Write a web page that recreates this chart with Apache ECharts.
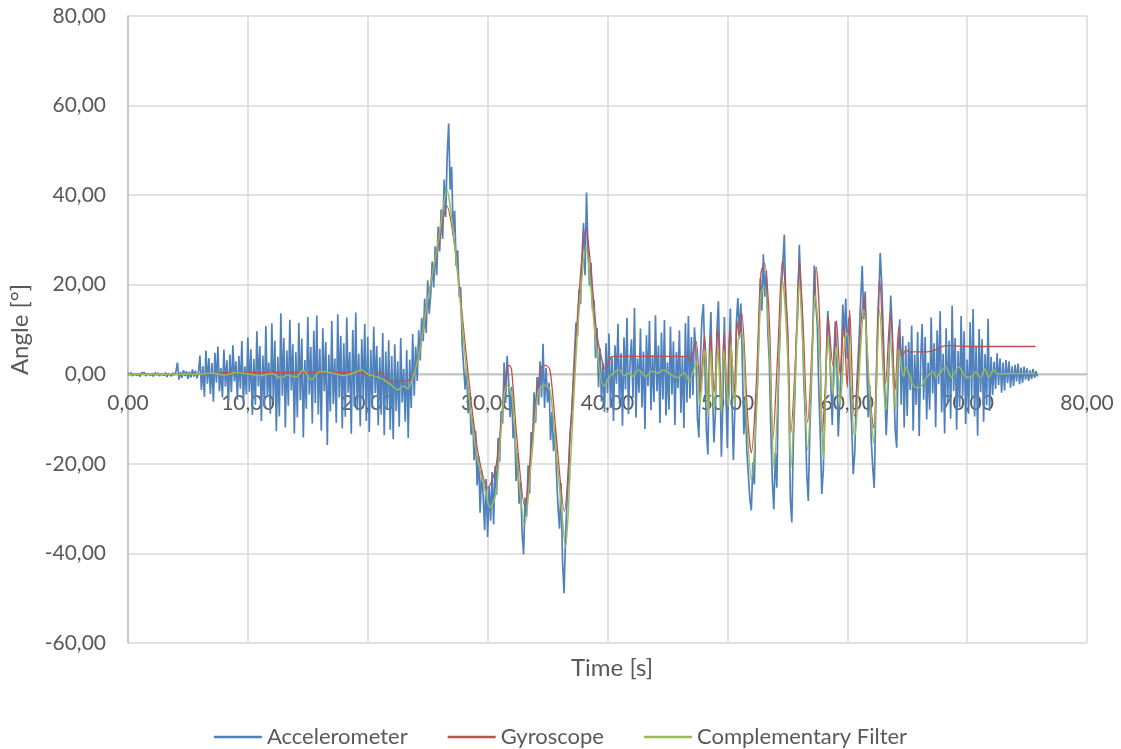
<!DOCTYPE html>
<html>
<head>
<meta charset="utf-8">
<script src="https://cdn.jsdelivr.net/npm/echarts@6/dist/echarts.min.js"></script>
<style>
  html, body { margin: 0; padding: 0; background: #fff; }
  #mainchart { width: 1121px; height: 749px; }
</style>
</head>
<body>
<div id="mainchart"></div>
<script>
// accelerometer: one sample every 0.125 s from 0, one row = 1 s
var accStart = 0;
var accStep = 0.125;
var accAngle = [
  0.3, -0.2, 0.4, -0.4, 0.1, 0.5, -0.3, 0.2,
  -0.5, 0.3, -0.1, 0.4, -0.4, 0.2, 0.5, -0.3,
  0.2, -0.5, 0.4, -0.2, 0.3, -0.4, 0.1, 0.5,
  -0.3, 0.4, -0.6, 0.2, 0.5, -0.4, 0.3, -0.2,
  0.6, 2.6, -1.2, 0.5, -0.8, 0.9, -0.4, 0.7,
  -1.0, 0.6, -0.7, 1.1, -0.5, 0.8, -0.9, 0.4,
  4.2, -3.5, 1.8, -5.0, 5.3, -2.1, 3.6, -4.4,
  2.5, -6.1, 4.8, -1.9, 6.2, -3.8, 1.4, -5.2,
  5.5, -2.8, 3.1, -6.8, 4.4, -4.0, 6.5, -1.6,
  2.9, -5.7, 4.1, -3.2, 7.4, -6.3, 1.8, -4.5,
  8.2, -3.9, 5.6, -9.1, 3.4, -6.8, 9.6, -2.7,
  6.3, -10.4, 4.2, -7.3, 10.8, -5.1, 2.6, -8.8,
  11.4, -6.2, 7.5, -12.7, 3.9, -9.4, 13.6, -4.8,
  8.1, -11.9, 5.3, -7.0, 12.2, -3.6, 6.7, -13.2,
  4.9, -9.6, 11.5, -5.8, 8.0, -14.1, 3.2, -7.7,
  12.8, -4.5, 6.1, -11.0, 9.7, -6.4, 13.1, -9.0,
  5.7, -12.6, 10.3, -3.8, 7.2, -15.8, 4.4, -8.3,
  11.9, -6.7, 3.5, -10.8, 13.4, -5.2, 8.6, -12.1,
  6.9, -9.5, 12.7, -4.1, 5.0, -13.3, 9.9, -7.2,
  13.8, -8.0, 4.6, -11.6, 7.9, -5.5, 11.2, -10.4,
  8.4, -12.9, 5.5, -7.6, 10.6, -4.2, 6.3, -11.4,
  3.8, -9.0, 9.2, -13.6, 5.1, -7.9, 7.6, -12.4,
  4.1, -14.5, 6.7, -8.2, 2.9, -11.7, 8.1, -6.3,
  1.2, -10.6, 5.4, -14.2, 3.3, -7.5, 9.0, -4.8,
  6.2, -1.5, 9.8, 3.1, 12.6, 7.4, 16.9, 9.2,
  21.0, 13.5, 17.8, 25.2, 19.4, 28.6, 22.1, 33.0,
  27.4, 36.8, 30.2, 43.5, 35.1, 48.7, 56.0, 41.2,
  46.3, 31.0, 36.5, 24.2, 27.7, 17.3, 19.5, 6.8,
  7.1, -3.4, 1.5, -8.7, -4.2, -13.5, -9.8, -19.2,
  -12.6, -24.8, -18.3, -30.9, -21.5, -27.0, -34.8, -23.4,
  -36.3, -25.1, -32.7, -21.8, -33.5, -20.4, -26.9, -14.2,
  -19.5, -8.2, -11.0, 2.6, -6.4, 4.1, -1.3, -9.6,
  -2.8, -14.3, -10.5, -23.8, -17.6, -28.9, -24.1, -35.4,
  -40.2, -27.5, -31.8, -20.3, -26.6, -12.9, -15.4, -4.0,
  -10.8, -0.6, -6.9, 2.9, -5.2, 6.8, -7.5, 1.4,
  -6.3, -1.9, -14.7, -8.4, -17.2, -12.0, -22.6, -29.8,
  -34.5, -24.3, -41.9, -48.9, -36.2, -28.0, -22.4, -13.1,
  -9.5, -2.2, 4.8, 11.6, 8.5, 18.9, 15.7, 26.4,
  33.8, 22.1, 40.6, 27.5, 19.8, 24.9, 14.2, 16.5,
  3.6, 10.4, -2.9, 5.8, -6.1, 2.5, -8.4, 6.9,
  -4.2, 9.1, -7.6, 3.8, -10.4, 6.5, -2.1, 11.3,
  -6.8, 4.7, -11.5, 8.2, -3.4, 12.6, -8.9, 2.4,
  7.8, -5.3, 14.8, -9.7, 3.6, -4.1, 10.2, -7.4,
  5.1, -12.2, 8.7, -2.6, 11.9, -8.0, 4.3, -6.2,
  13.2, -3.8, 6.4, -10.9, 9.3, -5.6, 12.1, -9.2,
  2.7, -7.9, 10.6, -4.5, 7.3, -11.3, 5.0, -3.1,
  9.8, -8.6, 3.9, -12.0, 11.4, -6.3, 13.0, -5.4,
  8.3, -4.6, 10.5, 5.2, -9.8, -14.1, 3.6, 12.4,
  15.7, 2.3, -12.6, -17.9, 4.8, 13.9, -2.5, -15.2,
  -8.7, 9.6, 16.3, 1.4, -18.4, -6.2, 12.8, -3.9,
  -16.5, 3.1, 14.7, -5.0, -19.2, -7.6, 11.5, 17.0,
  8.9, 15.8, 2.7, -13.4, -6.1, -17.3, -22.5, -27.8,
  -30.4, -19.7, -24.6, -8.3, -3.1, 9.7, 21.5, 14.2,
  26.8, 17.3, 23.1, 9.4, 2.8, -12.6, -23.9, -30.2,
  -17.5, -25.3, -3.2, 8.9, 18.7, 24.6, 31.2, 16.1,
  10.5, -2.3, -27.7, -33.1, -15.4, -5.2, 7.9, 13.6,
  28.9, 19.2, 12.7, -1.8, -9.5, -22.4, -28.3, -12.8,
  -2.6, 9.1, 24.3, 15.8, 11.2, -3.4, -13.5, -26.7,
  -21.6, -8.9, 3.7, 14.1, 8.2, -1.5, -11.3, 2.4,
  11.8, 3.1, -13.9, -5.7, 2.2, 15.6, 8.4, 16.9,
  3.5, 12.6, -4.8, -11.9, -22.3, -17.6, -5.4, 1.8,
  8.7, 16.9, 24.2, 12.3, 18.5, 2.9, -9.6, -2.4,
  -14.7, -20.8, -25.4, -8.2, 5.6, 16.3, 27.1, 20.4,
  9.8, -3.2, -13.6, -5.1, 3.9, 17.6, 10.2, -1.7,
  -12.5, -16.4, 4.1, 12.3, -6.8, 8.5, -11.9, 6.4,
  -9.3, 7.2, -3.5, 10.9, -12.6, 4.4, -6.8, 9.5,
  -13.8, 3.1, 11.2, -5.7, 8.3, -10.1, 2.6, -7.9,
  12.7, -4.3, 6.9, -11.8, 9.8, -2.2, 14.1, -8.5,
  4.6, -13.2, 10.3, -6.4, 7.5, -9.9, 15.3, -3.7,
  8.1, -12.4, 5.2, -7.3, 13.0, -4.9, 9.6, -11.1,
  3.3, -8.8, 11.6, -5.1, 14.6, -9.4, 6.2, -13.7,
  10.1, -4.0, 7.8, -10.6, 4.5, -6.9, 12.4, -8.2,
  3.9, -4.6, 2.8, -3.3, 4.7, -2.4, 3.5, -4.1,
  2.6, -3.6, 3.2, -2.0, 2.9, -3.0, 1.8, -2.6,
  2.1, -1.6, 2.4, -2.2, 1.5, -1.9, 1.7, -1.2,
  1.3, -1.5, 0.9, -1.1, 1.2, -0.8, 0.7, -0.5
];

// gyroscope
var gyroTime = [0, 6, 7, 10, 14, 19.3, 20.6, 21, 21.5, 22.1, 23.5, 24.3, 25.2, 26, 26.6, 27.1, 27.7, 28.2, 28.8, 29.3,
  30, 30.7, 31.3, 31.6, 31.8, 32, 32.4, 33.1, 33.6, 34.1, 34.5, 34.8, 35.2, 35.7, 36.4, 36.9, 37.4, 37.9, 38.2, 38.6,
  39.1, 39.6, 39.8, 40.1, 40.4, 46.8, 46.9, 47.4, 47.7, 48.1, 48.4, 48.6, 48.9, 49.2, 49.5, 49.7, 50, 50.2, 50.6, 50.8,
  51.0, 51.2, 51.7, 52, 52.4, 52.8, 53.1, 53.5, 53.8, 54.2, 54.6, 55, 55.3, 55.7, 56, 56.3, 56.7, 57.1, 57.4, 57.7,
  57.9, 58.2, 58.4, 58.8, 59.1, 59.4, 59.7, 60, 60.2, 60.6, 61.4, 61.8, 62.2, 62.7, 63.2, 63.6, 64, 64.3, 64.6, 64.9,
  65.2, 66.6, 67.4, 68.2, 70.4, 75.7];
var gyroAngle = [0, 0, 0.2, 0.4, 0.4, 0.4, -0.5, 0.6, -0.8, -1.6, -1.2, 4.7, 19.6, 30, 37.6, 31.5, 18, 4.7, -10, -19,
  -25.4, -20.6, -5.7, 1.4, 2, 1, -13, -29.5, -17.6, -4.2, 1.7, 2, 1, -13, -30.6, -13, 9.2, 27, 32.7, 24,
  9.2, 2.5, 1.2, 2.5, 4, 4, 3.2, 7.3, -4.2, 8.8, -7.2, 8.8, -4, 10.3, -7, 9, -5, 10, -4, 12,
  8, 13.7, -10, -17.6, -2.7, 22.6, 24.8, 12, -14.6, 4.7, 25.5, 12, -13, 4.7, 25.5, 12, -10.8, 8, 24, 12,
  -13, -2, 12.9, 2, 12, 0, 11, -3, 14.4, -9.4, 18, -2, -12, 21.5, -2, 14.4, -3.5, 10.6, 4, 5.4,
  5, 5, 5.5, 6.4, 6.2, 6.2];

// complementary filter
var filterTime = [0, 6, 7, 8, 9, 10, 11, 12, 12.7, 13.3, 14, 14.6, 15.3, 16, 17, 18, 19, 19.5, 20, 20.5,
  21, 21.5, 22, 22.5, 23, 23.3, 23.6, 24.3, 24.9, 25.5, 26, 26.3, 26.6, 26.9, 27.3, 27.7, 28.2, 28.8, 29.3, 29.8,
  30.2, 30.7, 31.1, 31.6, 32, 32.5, 33.1, 33.6, 34.2, 34.7, 35.2, 35.7, 36.1, 36.5, 36.9, 37.4, 37.8, 38.2, 38.6, 39.1,
  39.7, 40.2, 41, 41.4, 41.8, 42.1, 42.6, 43.2, 43.7, 44.2, 44.7, 45.1, 45.8, 46.4, 46.8, 47.4, 47.7, 48.1, 48.4, 48.6,
  48.9, 49.2, 49.5, 49.7, 50.1, 50.3, 50.6, 50.9, 51.2, 51.6, 52, 52.4, 52.8, 53.1, 53.5, 53.9, 54.3, 54.6, 55, 55.3,
  55.7, 56, 56.3, 56.7, 57.1, 57.3, 57.7, 58, 58.4, 58.8, 59.1, 59.4, 59.8, 60, 60.6, 61.4, 61.9, 62.2, 62.7, 63.2,
  63.6, 64, 64.3, 64.7, 64.9, 65.4, 65.8, 66.2, 66.6, 67.2, 67.4, 67.8, 68.2, 68.7, 69.3, 69.9, 70.3, 70.7, 71.1, 71.5,
  71.8, 72.2, 72.6, 73.5, 75.7];
var filterAngle = [0, 0, 0.3, -0.2, 0.4, 0.1, -0.3, 0.2, -0.8, -0.2, -0.6, 0.9, -1.2, 0.6, 0.3, -0.3, 0.5, 1.0, 0, -0.4,
  -0.8, -1.5, -2.5, -3.5, -2.6, -3.2, -2, 4.7, 15, 24, 31.5, 37.4, 41.3, 37, 27.8, 16.6, 1.7, -13, -20.6, -26,
  -29.8, -26.5, -13, -2.4, -4.2, -20.6, -33.6, -20.6, -4.2, -2.4, -3.5, -16.9, -28, -38.5, -20.6, 5.4, 19.6, 28.5, 19.6, 5.4,
  -2.7, -0.5, 1, -0.3, 0.3, -0.5, 1, -0.5, 0.7, 0.3, 1, 0.3, -0.8, 0.3, -1.5, 2.8, -7, 5.4, -9.4, 5.4,
  -8, 6, -8.5, 5.4, -7, 7, -7, 7.7, 9.2, -10, -23.6, -10, 18, 19.6, 6, -21.3, 2, 21, 6, -21,
  2, 20.6, 6, -16.9, 6, 17.7, 6, -19, 8.4, -4.5, 6, -7, 7.8, 9.2, -13.9, 14.4, -5.7, -15.4, 14.4, -8,
  7.7, -8, 5.4, -0.5, 1.7, -2, -3, -2.6, -0.7, 0.5, -0.7, 0.5, 1.7, -0.7, 1.7, -0.6, -0.7, 0.5, -0.7, 1.2,
  -0.7, 0.9, 0, 0.2, 0.2];

var seriesNames = ['Accelerometer', 'Gyroscope', 'Complementary Filter'];
var xTicks = { min: 0, max: 80, interval: 10 };
var yTicks = { min: -60, max: 80, interval: 20 };

function pairs(times, values) {
    return values.map(function(v, i) { return [times[i], v]; });
}
var accData = accAngle.map(function(v, i) { return [accStart + i * accStep, v]; });

function fmt(v) {
    return v.toFixed(2).replace('.', ',');
}

var font = 'Lato, "Open Sans", sans-serif';
var myChart = echarts.init(document.getElementById('mainchart'));

// grid: top 16, bottom edge at 643 -> y = 0 sits 269 px above the bottom
var option = {
    animation: false,
    color: ['#4F81BD', '#C0504D', '#9BBB59'],
    textStyle: { fontFamily: font },
    title: {
        text: 'Time [s]',
        left: 566,
        top: 651,
        textStyle: { fontFamily: font, fontSize: 24, fontWeight: 'normal', color: '#595959' }
    },
    grid: { left: 128, right: 34, top: 16, bottom: 106 },
    legend: {
        data: seriesNames,
        top: 721,
        left: 'center',
        icon: 'rect',
        itemWidth: 48,
        itemHeight: 2.5,
        itemGap: 40,
        textStyle: { fontFamily: font, fontSize: 22, color: '#595959' }
    },
    xAxis: {
        type: 'value',
        min: xTicks.min,
        max: xTicks.max,
        interval: xTicks.interval,
        offset: -269,
        axisLine: { onZero: false, lineStyle: { color: '#BFBFBF', width: 1.5 } },
        axisTick: { show: false },
        axisLabel: { formatter: fmt, fontSize: 21, color: '#595959', margin: 19, fontFamily: font },
        splitLine: { lineStyle: { color: '#D9D9D9', width: 1.5 } }
    },
    yAxis: {
        type: 'value',
        min: yTicks.min,
        max: yTicks.max,
        interval: yTicks.interval,
        name: 'Angle [°]',
        nameLocation: 'middle',
        nameGap: 96,
        nameTextStyle: { fontFamily: font, fontSize: 24, color: '#595959' },
        axisLine: { show: true, lineStyle: { color: '#BFBFBF', width: 1.5 } },
        axisTick: { show: false },
        axisLabel: { formatter: fmt, fontSize: 21, color: '#595959', margin: 22, fontFamily: font },
        splitLine: { lineStyle: { color: '#D9D9D9', width: 1.5 } }
    },
    series: [
        {
            name: seriesNames[0], type: 'line', data: accData,
            showSymbol: false, symbol: 'none', sampling: null,
            lineStyle: { width: 1.7 }, z: 2
        },
        {
            name: seriesNames[1], type: 'line', data: pairs(gyroTime, gyroAngle),
            showSymbol: false, symbol: 'none', smooth: 0.3,
            lineStyle: { width: 1.3 }, z: 3
        },
        {
            name: seriesNames[2], type: 'line', data: pairs(filterTime, filterAngle),
            showSymbol: false, symbol: 'none', smooth: 0.3,
            lineStyle: { width: 1.5 }, z: 4
        }
    ]
};
myChart.setOption(option);
</script>
</body>
</html>
